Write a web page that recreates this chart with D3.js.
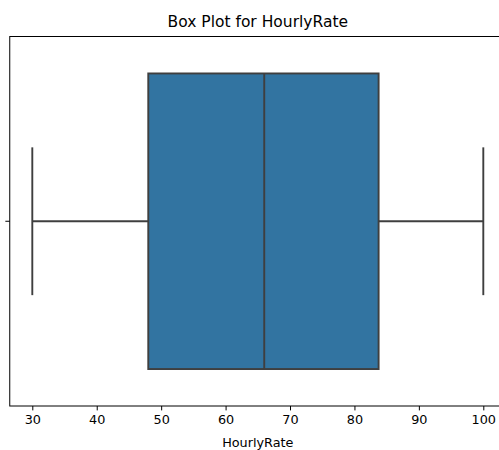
<!DOCTYPE html>
<html>
<head>
<meta charset="utf-8">
<script src="https://cdn.jsdelivr.net/npm/d3@7"></script>
<style>
  html, body { margin: 0; padding: 0; background: #fff; }
  svg { display: block; }
  text { font-family: "DejaVu Sans", sans-serif; fill: #000; }
</style>
</head>
<body>
<div id="chart"></div>
<script>
// Five-number summary for HourlyRate
const statNames = ["min", "q1", "median", "q3", "max"];
const statValues = [30, 48, 66, 83.75, 100];
const xTicks = [30, 40, 50, 60, 70, 80, 90, 100];
const categories = [""];
const xDomain = [26.5, 103.5];

const stats = Object.fromEntries(statNames.map((n, i) => [n, statValues[i]]));

const W = 499, H = 450;
const plotLeft = 9.75, plotTop = 36.5, plotBottom = 406;
const plotRight = 505.85; // axes extends slightly past the canvas edge

const svg = d3.select("#chart").append("svg")
  .attr("width", W).attr("height", H);

const x = d3.scaleLinear().domain(xDomain).range([plotLeft, plotRight]);
const y = d3.scaleBand().domain(categories).range([plotTop, plotBottom]).paddingInner(0).paddingOuter(0);
const yc = y("") + y.bandwidth() / 2;
const boxH = y.bandwidth() * 0.8;
const capH = y.bandwidth() * 0.4;

const lineColor = "#3f3f3f";
const fill = "#3274a1";
const lw = 1.9;

const g = svg.append("g");

// whiskers
g.append("line")
  .attr("x1", x(stats.min)).attr("x2", x(stats.q1))
  .attr("y1", yc).attr("y2", yc)
  .attr("stroke", lineColor).attr("stroke-width", lw);
g.append("line")
  .attr("x1", x(stats.q3)).attr("x2", x(stats.max))
  .attr("y1", yc).attr("y2", yc)
  .attr("stroke", lineColor).attr("stroke-width", lw);
// caps
[stats.min, stats.max].forEach(v => {
  g.append("line")
    .attr("x1", x(v)).attr("x2", x(v))
    .attr("y1", yc - capH / 2).attr("y2", yc + capH / 2)
    .attr("stroke", lineColor).attr("stroke-width", lw);
});
// box
g.append("rect")
  .attr("x", x(stats.q1)).attr("y", yc - boxH / 2)
  .attr("width", x(stats.q3) - x(stats.q1)).attr("height", boxH)
  .attr("fill", fill).attr("stroke", lineColor).attr("stroke-width", lw);
// median
g.append("line")
  .attr("x1", x(stats.median)).attr("x2", x(stats.median))
  .attr("y1", yc - boxH / 2).attr("y2", yc + boxH / 2)
  .attr("stroke", lineColor).attr("stroke-width", lw);

// frame
svg.append("rect")
  .attr("x", plotLeft).attr("y", plotTop)
  .attr("width", plotRight - plotLeft).attr("height", plotBottom - plotTop)
  .attr("fill", "none").attr("stroke", "#000").attr("stroke-width", 1);

// x axis
const xAxis = d3.axisBottom(x).tickValues(xTicks).tickSize(4.4).tickPadding(4.5).tickFormat(d3.format("d"));
const xa = svg.append("g").attr("transform", `translate(0,${plotBottom})`).call(xAxis);
xa.select(".domain").remove();
xa.selectAll("text").style("font-family", "DejaVu Sans, sans-serif").style("font-size", "12.8px").attr("fill", "#000");
xa.selectAll("line").attr("stroke", "#000").attr("stroke-width", 1);

// y axis (single unlabeled category)
const yAxis = d3.axisLeft(y).tickSize(4.4).tickFormat(d => d);
const ya = svg.append("g").attr("transform", `translate(${plotLeft},0)`).call(yAxis);
ya.select(".domain").remove();
ya.selectAll("line").attr("stroke", "#000").attr("stroke-width", 1);

// title and label
const cx = (plotLeft + plotRight) / 2;
svg.append("text")
  .attr("x", cx).attr("y", 26.5)
  .attr("text-anchor", "middle").style("font-size", "15.5px")
  .text("Box Plot for HourlyRate");
svg.append("text")
  .attr("x", cx).attr("y", 446.5)
  .attr("text-anchor", "middle").style("font-size", "12.8px")
  .text("HourlyRate");
</script>
</body>
</html>
